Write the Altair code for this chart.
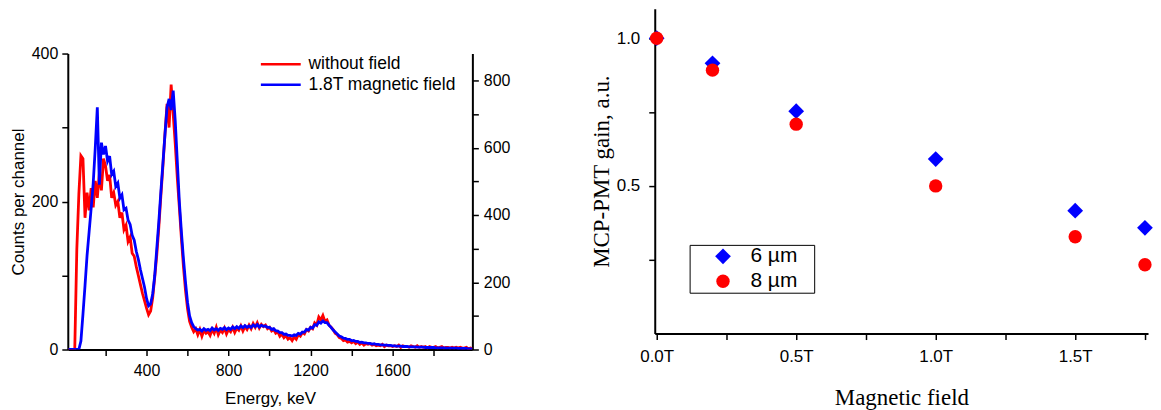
import altair as alt
import pandas as pd

# ---------------- data ----------------
ENERGY_KEV = list(range(20, 2000, 10))

COUNTS_NO_FIELD = [
    0, 0, 0, 0, 135, 210, 262, 258,
    178, 212, 188, 218, 192, 228, 205, 238, 215, 258,
    248, 228, 236, 205, 212, 195, 200, 178, 185, 162,
    168, 146, 152, 130, 126, 112, 100, 88, 76, 66,
    56, 47, 52, 70, 98, 128, 165, 208, 248, 292,
    332, 300, 358, 318, 278, 232, 192, 150, 112, 80,
    55, 38, 30, 24, 28, 20, 27, 18, 26, 22,
    24, 19, 27, 22, 30, 20, 26, 23, 29, 21,
    27, 24, 30, 23, 29, 26, 32, 25, 31, 27,
    33, 28, 35, 30, 36, 29, 34, 31, 33, 28,
    30, 25, 27, 22, 24, 18, 21, 16, 19, 14,
    16, 12, 17, 14, 20, 18, 23, 21, 27, 25,
    30, 28, 36, 33, 44, 40, 46, 38, 40, 33,
    30, 27, 22, 20, 16, 15, 12, 13, 10, 11,
    9, 11, 8, 10, 7, 9, 6, 8, 7, 8,
    6, 7, 5, 6, 5, 7, 4, 6, 5, 5,
    4, 5, 4, 6, 3, 5, 4, 4, 3, 5,
    4, 3, 5, 3, 4, 3, 4, 2, 4, 3,
    3, 4, 2, 3, 4, 2, 3, 3, 2, 3,
    2, 3, 2, 3, 2, 2, 3, 1, 2, 1,
]

COUNTS_FIELD = [
    0, 0, 0, 0, 0, 0, 25, 105,
    190, 280, 350, 420, 495, 600, 720, 490, 615, 580,
    605, 560, 575, 520, 530, 485, 495, 450, 460, 415,
    420, 385, 372, 340, 325, 292, 268, 238, 212, 186,
    152, 130, 136, 165, 220, 300, 380, 470, 555, 640,
    720, 745, 712, 770, 680, 560, 440, 350, 270, 200,
    140, 100, 80, 68, 62, 58, 60, 55, 62, 57,
    60, 56, 64, 58, 62, 57, 63, 60, 65, 59,
    64, 60, 67, 62, 68, 63, 70, 65, 71, 66,
    70, 66, 73, 68, 74, 67, 72, 69, 70, 66,
    66, 60, 62, 56, 55, 50, 50, 45, 46, 42,
    42, 40, 44, 42, 48, 46, 52, 52, 60, 58,
    66, 64, 74, 72, 82, 78, 85, 80, 80, 72,
    66, 58, 52, 46, 40, 38, 34, 33, 30, 30,
    26, 27, 24, 24, 21, 22, 20, 20, 18, 18,
    16, 17, 15, 15, 14, 14, 13, 13, 12, 12,
    11, 11, 10, 10, 10, 9, 9, 9, 8, 8,
    8, 8, 7, 7, 7, 7, 6, 6, 6, 6,
    6, 5, 5, 5, 5, 5, 4, 4, 4, 4,
    4, 4, 3, 3, 3, 3, 3, 2, 2, 2,
]

SPECTRUM_SERIES = ["without field", "1.8T magnetic field"]

FIELD_T = [0.0, 0.2, 0.5, 1.0, 1.5, 1.75]
GAIN_6UM = [1.0, 0.915, 0.753, 0.591, 0.416, 0.358]
GAIN_8UM = [1.0, 0.892, 0.709, 0.500, 0.328, 0.233]
PORE_SERIES = ["6 µm", "8 µm"]

# ---------------- tables ----------------
red_df = pd.DataFrame({"E": ENERGY_KEV, "c": COUNTS_NO_FIELD, "s": SPECTRUM_SERIES[0]})
blue_df = pd.DataFrame({"E": ENERGY_KEV, "c": COUNTS_FIELD, "s": SPECTRUM_SERIES[1]})
gain_df = pd.DataFrame({
    "B": FIELD_T + FIELD_T,
    "g": GAIN_6UM + GAIN_8UM,
    "p": [PORE_SERIES[0]] * len(FIELD_T) + [PORE_SERIES[1]] * len(FIELD_T),
})

SANS = "Liberation Sans"
SERIF = "Liberation Serif"

axis_common = dict(
    grid=False, domainColor="black", domainWidth=2, tickColor="black",
    tickWidth=1.5, tickSize=6, labelColor="black", titleColor="black",
    labelFont=SANS, titleFontWeight="normal",
)

color_spec = alt.Color(
    "s:N",
    scale=alt.Scale(domain=SPECTRUM_SERIES, range=["#ff0000", "#0000ff"]),
    legend=alt.Legend(
        title=None, orient="none", legendX=190, legendY=47,
        symbolType="M-4,0H4", symbolSize=100, symbolStrokeWidth=2.5,
        symbolOffset=15, labelOffset=19,
        labelFont=SANS, labelFontSize=17.5, labelColor="black",
        rowPadding=1.5, padding=0,
    ),
)

x_energy = alt.X(
    "E:Q",
    scale=alt.Scale(domain=[16, 1989], nice=False, zero=False),
    axis=alt.Axis(
        values=[200, 400, 600, 800, 1000, 1200, 1400, 1600, 1800],
        labelExpr="datum.value % 400 == 0 ? format(datum.value, 'd') : ''",
        title="Energy, keV", titleFont=SANS, titleFontSize=17,
        labelFontSize=16, labelPadding=7, titlePadding=12, **axis_common,
    ),
)

red_line = alt.Chart(red_df).mark_line(strokeWidth=2.8, clip=True).encode(
    x=x_energy,
    y=alt.Y(
        "c:Q",
        scale=alt.Scale(domain=[0, 400], nice=False),
        axis=alt.Axis(
            orient="left", values=[0, 100, 200, 300, 400],
            labelExpr="datum.value % 200 == 0 ? datum.label : ''",
            title="Counts per channel", titleFont=SANS, titleFontSize=17,
            labelFontSize=16, labelPadding=4, titlePadding=4, **axis_common,
        ),
    ),
    color=color_spec,
)

blue_line = alt.Chart(blue_df).mark_line(strokeWidth=2.8, clip=True).encode(
    x=x_energy,
    y=alt.Y(
        "c:Q",
        scale=alt.Scale(domain=[0, 880], nice=False),
        axis=alt.Axis(
            orient="right", values=[0, 100, 200, 300, 400, 500, 600, 700, 800],
            labelExpr="datum.value % 200 == 0 ? datum.label : ''",
            title=None, labelFontSize=16, labelPadding=5, **axis_common,
        ),
    ),
    color=color_spec,
)

spectrum = (
    alt.layer(red_line, blue_line)
    .resolve_scale(y="independent")
    .properties(width=406, height=297)
)

# invisible spacer that pushes the spectrum panel down
spacer = (
    alt.Chart(pd.DataFrame({"k": [0]}))
    .mark_text(text="", opacity=0)
    .encode(x=alt.value(5), y=alt.value(20))
    .properties(width=406, height=37)
)

left = alt.vconcat(spacer, spectrum, spacing=0)

legend_right = alt.Legend(
    title=None, orient="none", legendX=35, legendY=237,
    strokeColor="black", fillColor="white", padding=1,
    symbolSize=200, symbolOffset=22, labelOffset=17,
    labelExpr="datum.label + '\u2800'",
    labelFont=SANS, labelFontSize=21, labelColor="black", rowPadding=3,
)

right = alt.Chart(gain_df).mark_point(filled=True, opacity=1).encode(
    x=alt.X(
        "B:Q",
        scale=alt.Scale(domain=[-0.007, 1.761], nice=False, zero=False),
        axis=alt.Axis(
            values=[0, 0.25, 0.5, 0.75, 1.0, 1.25, 1.5, 1.75],
            labelExpr="round(datum.value * 4) % 2 == 0 ? format(datum.value, '.1f') + 'T' : ''",
            title="Magnetic field", titleFont=SERIF, titleFontSize=23,
            labelFontSize=17, labelPadding=9, titlePadding=22, **axis_common,
        ),
    ),
    y=alt.Y(
        "g:Q",
        scale=alt.Scale(domain=[0, 1.1], nice=False),
        axis=alt.Axis(
            values=[0.25, 0.5, 0.75, 1.0],
            labelExpr="round(datum.value * 4) % 2 == 0 ? format(datum.value, '.1f') : ''",
            title="MCP-PMT gain, a.u.", titleFont=SERIF, titleFontSize=23,
            labelFontSize=17, labelPadding=9, titlePadding=3, **axis_common,
        ),
    ),
    color=alt.Color(
        "p:N",
        scale=alt.Scale(domain=PORE_SERIES, range=["#0000ff", "#ff0000"]),
        legend=legend_right,
    ),
    shape=alt.Shape(
        "p:N",
        scale=alt.Scale(domain=PORE_SERIES, range=["diamond", "circle"]),
        legend=legend_right,
    ),
    size=alt.Size(
        "p:N",
        scale=alt.Scale(domain=PORE_SERIES, range=[250, 180]),
        legend=None,
    ),
).properties(width=495, height=326)

chart = (
    alt.hconcat(left, right, spacing=80)
    .resolve_scale(color="independent", shape="independent", size="independent")
    .resolve_legend(color="independent", shape="independent")
    .properties(padding={"left": 1, "top": 0, "right": 0, "bottom": 0})
    .configure_view(stroke=None)
)

chart.save("out.html", embed_options={"renderer": "svg", "actions": False})
